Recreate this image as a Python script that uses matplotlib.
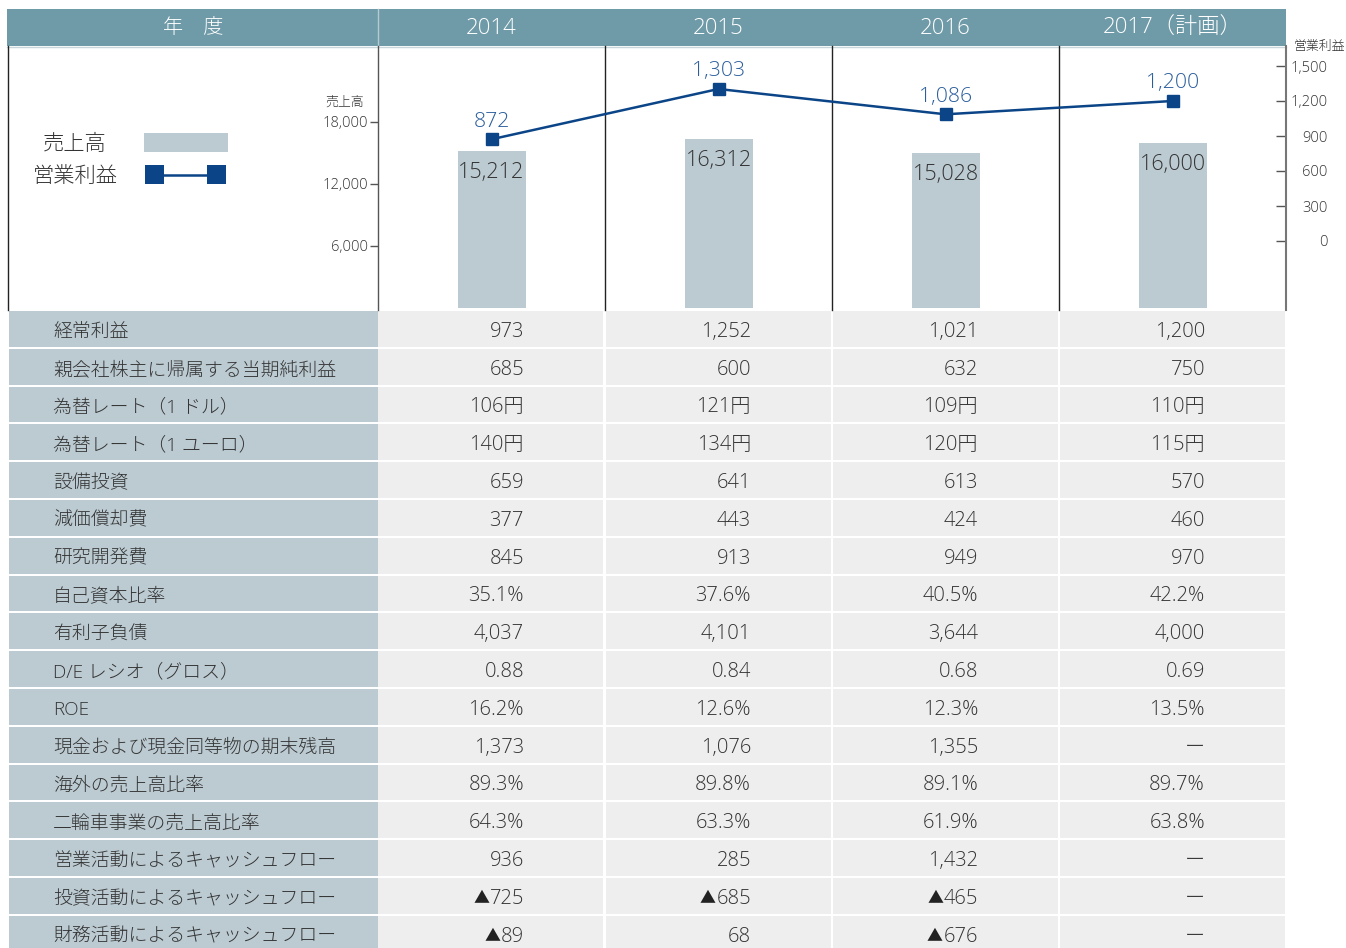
import matplotlib
matplotlib.use("Agg")
import matplotlib.pyplot as plt
from matplotlib.patches import Rectangle

plt.rcParams['font.family'] = ['Open Sans', 'Noto Sans CJK JP', 'DejaVu Sans']
plt.rcParams['font.weight'] = 'light'

# ---------------- data ----------------
years = ["2014", "2015", "2016", "2017（計画）"]
sales = [15212, 16312, 15028, 16000]
op_profit = [872, 1303, 1086, 1200]
sales_ticks = [6000, 12000, 18000]
profit_ticks = [0, 300, 600, 900, 1200, 1500]

row_labels = [
    "経常利益", "親会社株主に帰属する当期純利益", "為替レート（1 ドル）",
    "為替レート（1 ユーロ）", "設備投資", "減価償却費", "研究開発費",
    "自己資本比率", "有利子負債", "D/E レシオ（グロス）", "ROE",
    "現金および現金同等物の期末残高", "海外の売上高比率", "二輪車事業の売上高比率",
    "営業活動によるキャッシュフロー", "投資活動によるキャッシュフロー",
    "財務活動によるキャッシュフロー",
]
vals_2014 = ["973", "685", "106円", "140円", "659", "377", "845", "35.1%", "4,037",
             "0.88", "16.2%", "1,373", "89.3%", "64.3%", "936", "▲725", "▲89"]
vals_2015 = ["1,252", "600", "121円", "134円", "641", "443", "913", "37.6%", "4,101",
             "0.84", "12.6%", "1,076", "89.8%", "63.3%", "285", "▲685", "68"]
vals_2016 = ["1,021", "632", "109円", "120円", "613", "424", "949", "40.5%", "3,644",
             "0.68", "12.3%", "1,355", "89.1%", "61.9%", "1,432", "▲465", "▲676"]
vals_2017 = ["1,200", "750", "110円", "115円", "570", "460", "970", "42.2%", "4,000",
             "0.69", "13.5%", "ー", "89.7%", "63.8%", "ー", "ー", "ー"]
table_cols = [vals_2014, vals_2015, vals_2016, vals_2017]

# ---------------- style ----------------
W, H = 1346, 948
HEADER_C = "#6f9aa8"
LABEL_C = "#bccbd2"
CELL_C = "#eeeeee"
BAR_C = "#bccbd2"
LINE_C = "#0b4587"
LBL_BLUE = "#2a5d9c"
TXT = "#333333"

fig = plt.figure(figsize=(W / 100, H / 100), dpi=100)
bg = fig.add_axes([0, 0, 1, 1])
bg.set_xlim(0, W)
bg.set_ylim(H, 0)
bg.axis("off")
renderer = fig.canvas.get_renderer()

col_left = 378
col_w = 227
chart_top, chart_bot = 46, 310

# header
bg.add_patch(Rectangle((7, 9), 1286 - 7, 37, color=HEADER_C, lw=0))
bg.plot([378, 378], [9, 46], color="#b5cbd2", lw=1)
bg.plot([7, 1286], [46.5, 46.5], color="#c9d7dc", lw=1)
bg.text(193, 28, "年　度", ha="center", va="center", color="white", fontsize=14.5)
for j, y in enumerate(years):
    bg.text(col_left + col_w * (j + 0.5), 28.5, y, ha="center", va="center",
            color="white", fontsize=16)

# chart area frame lines
bg.plot([7.5, 7.5], [chart_top, chart_bot], color="#222222", lw=1)
for j in range(1, 4):
    x = col_left + col_w * j
    bg.plot([x, x], [chart_top, chart_bot], color="#222222", lw=1)

# legend
bg.text(75, 145, "売上高", ha="center", va="center", color=TXT, fontsize=15.3)
bg.add_patch(Rectangle((144, 133), 84, 19, color=BAR_C, lw=0))
bg.text(75, 177, "営業利益", ha="center", va="center", color=TXT, fontsize=15.3)
bg.plot([154, 217], [174.5, 174.5], color=LINE_C, lw=1.8)
bg.add_patch(Rectangle((145, 165), 19, 19, color=LINE_C, lw=0))
bg.add_patch(Rectangle((207, 165), 19, 19, color=LINE_C, lw=0))

# axis titles
bg.text(345, 102, "売上高", ha="center", va="center", color=TXT, fontsize=9.3)
bg.text(1319, 46, "営業利益", ha="center", va="center", color=TXT, fontsize=9.3)

# table
row_top0 = 311
row_h = 37.8
for i, lab in enumerate(row_labels):
    top = row_top0 + i * row_h
    hgt = row_h - 2
    bg.add_patch(Rectangle((9, top), col_left - 9, hgt, color=LABEL_C, lw=0))
    for j in range(4):
        x0 = col_left + col_w * j + (1 if j > 0 else 0)
        bg.add_patch(Rectangle((x0, top), col_w - 2, hgt, color=CELL_C, lw=0))
    yc = top + hgt / 2 + 3
    bg.text(53, yc, lab, ha="left", va="center", color=TXT, fontsize=13.6)
    for j in range(4):
        val = table_cols[j][i]
        xr = col_left + col_w * (j + 1) - 81
        if val.startswith("▲"):
            t = bg.text(xr, yc, val[1:], ha="right", va="center", color=TXT,
                        fontsize=14.5)
            ext = t.get_window_extent(renderer)
            bg.text(ext.x0 - 0.5, yc + 0.5, "▲", ha="right", va="center",
                    color="#222222", fontsize=11.5)
        else:
            bg.text(xr, yc, val, ha="right", va="center", color=TXT,
                    fontsize=14.5)

# ---------------- chart axes ----------------
ax = fig.add_axes([col_left / W, 1 - chart_bot / H, (1286 - col_left) / W,
                   (chart_bot - chart_top) / H])
ax.patch.set_alpha(0)
ax.set_xlim(-0.5, 3.5)
# sales: 6000 per 63 px, zero at y=312
s_per_px = 6000 / 63
ax.set_ylim(-(312 - chart_bot) * s_per_px, (312 - chart_top) * s_per_px)
x = list(range(len(sales)))
ax.bar(x, sales, width=68 / col_w, color=BAR_C, zorder=2)
for xi, v in zip(x, sales):
    ax.annotate(f"{v:,}", (xi, v), xytext=(0, -8), textcoords="offset points",
                ha="center", va="top", color=TXT, fontsize=15.5)
ax.set_xticks([])
ax.set_yticks(sales_ticks)
ax.set_yticklabels([f"{t:,}" for t in sales_ticks])
ax.tick_params(axis="y", direction="out", length=6, width=1, colors="#555555",
               labelcolor=TXT, labelsize=10.6, pad=1)
for s in ["top", "bottom", "right"]:
    ax.spines[s].set_visible(False)
ax.spines["left"].set_color("#555555")
ax.spines["left"].set_linewidth(1)

ax2 = ax.twinx()
p_per_px = 300 / 35
ax2.set_ylim(-(chart_bot - 241) * p_per_px, (241 - chart_top) * p_per_px)
ax2.plot(x, op_profit, color=LINE_C, lw=1.8, marker="s", markersize=9,
         zorder=3)
for xi, v in zip(x, op_profit):
    ax2.annotate(f"{v:,}", (xi, v), xytext=(0, 5.5), textcoords="offset points",
                 ha="center", va="bottom", color=LBL_BLUE, fontsize=15.3)
ax2.set_yticks(profit_ticks)
ax2.set_yticklabels([f"{t:,}" for t in profit_ticks])
ax2.tick_params(axis="y", direction="in", length=7, width=1, colors="#555555",
                labelcolor=TXT, labelsize=10.6, pad=30)
for t in ax2.get_yticklabels():
    t.set_horizontalalignment("right")
for s in ["top", "bottom", "left"]:
    ax2.spines[s].set_visible(False)
ax2.spines["right"].set_color("#777777")
ax2.spines["right"].set_linewidth(1.5)

fig.savefig("out.png", dpi=100)
